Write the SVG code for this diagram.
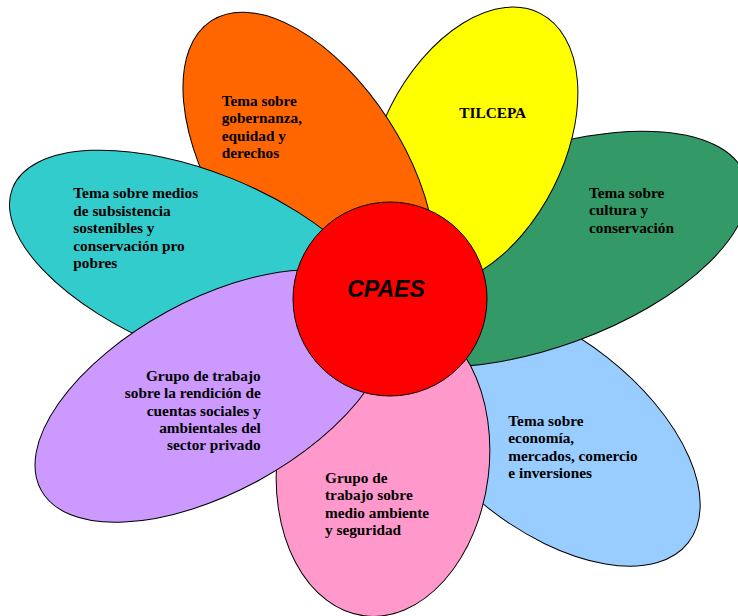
<svg xmlns="http://www.w3.org/2000/svg" width="738" height="616" viewBox="0 0 738 616">
<style>
.p{stroke:#000;stroke-width:1}
.t{font-family:"Liberation Serif","Times New Roman",serif;font-weight:bold;font-size:15.3px;fill:#000}
.c{font-family:"Liberation Sans",Arial,sans-serif;font-weight:bold;font-style:italic;font-size:23px;fill:#000}
</style>
<rect width="738" height="616" fill="#fff"/>
<g id="economia">
<ellipse class="p" cx="548" cy="433" rx="178" ry="96" fill="#99CCFF" transform="rotate(38 548 433)"/>
<text class="t"><tspan x="508.3" y="425.7">Tema sobre</tspan><tspan x="508.3" y="443.1">economía,</tspan><tspan x="508.3" y="460.5">mercados, comercio</tspan><tspan x="508.3" y="477.9">e inversiones</tspan></text>
</g>
<g id="cultura">
<ellipse class="p" cx="543" cy="249" rx="215" ry="98" fill="#339966" transform="rotate(-20 543 249)"/>
<text class="t"><tspan x="589" y="197.7">Tema sobre</tspan><tspan x="589" y="215.1">cultura y</tspan><tspan x="589" y="232.5">conservación</tspan></text>
</g>
<g id="tilcepa">
<ellipse class="p" cx="472" cy="147" rx="150" ry="91" fill="#FFFF00" transform="rotate(-63 472 147)"/>
<text class="t" x="459.3" y="118.3">TILCEPA</text>
</g>
<g id="gobernanza">
<ellipse class="p" cx="309" cy="172" rx="180" ry="95" fill="#FF6600" transform="rotate(57.2 309 172)"/>
<text class="t"><tspan x="221.7" y="106">Tema sobre</tspan><tspan x="221.7" y="123.4">gobernanza,</tspan><tspan x="221.7" y="140.8">equidad y</tspan><tspan x="221.7" y="158.2">derechos</tspan></text>
</g>
<g id="subsistencia">
<ellipse class="p" cx="198" cy="263" rx="200" ry="91" fill="#33CCCC" transform="rotate(22 198 263)"/>
<text class="t"><tspan x="73.3" y="198.3">Tema sobre medios</tspan><tspan x="73.3" y="215.8">de subsistencia</tspan><tspan x="73.3" y="233.3">sostenibles y</tspan><tspan x="73.3" y="250.8">conservación pro</tspan><tspan x="73.3" y="268.3">pobres</tspan></text>
</g>
<g id="medioambiente">
<ellipse class="p" cx="383" cy="464" rx="106" ry="153" fill="#FF99CC" transform="rotate(7 383 464)"/>
<text class="t"><tspan x="325" y="482.9">Grupo de</tspan><tspan x="325" y="500.3">trabajo sobre</tspan><tspan x="325" y="517.7">medio ambiente</tspan><tspan x="325" y="535.1">y seguridad</tspan></text>
</g>
<g id="rendicion">
<ellipse class="p" cx="213" cy="396" rx="196" ry="96" fill="#CC99FF" transform="rotate(-28.7 213 396)"/>
<text class="t" text-anchor="end"><tspan x="260.7" y="380.7">Grupo de trabajo</tspan><tspan x="260.7" y="398.1">sobre la rendición de</tspan><tspan x="260.7" y="415.5">cuentas sociales y</tspan><tspan x="260.7" y="432.9">ambientales del</tspan><tspan x="260.7" y="450.3">sector privado</tspan></text>
</g>
<g id="cpaes">
<circle class="p" cx="390" cy="299" r="97" fill="#FF0000"/>
<text class="c" x="386" y="297" text-anchor="middle">CPAES</text>
</g>
<g id="connectors"/>
</svg>
